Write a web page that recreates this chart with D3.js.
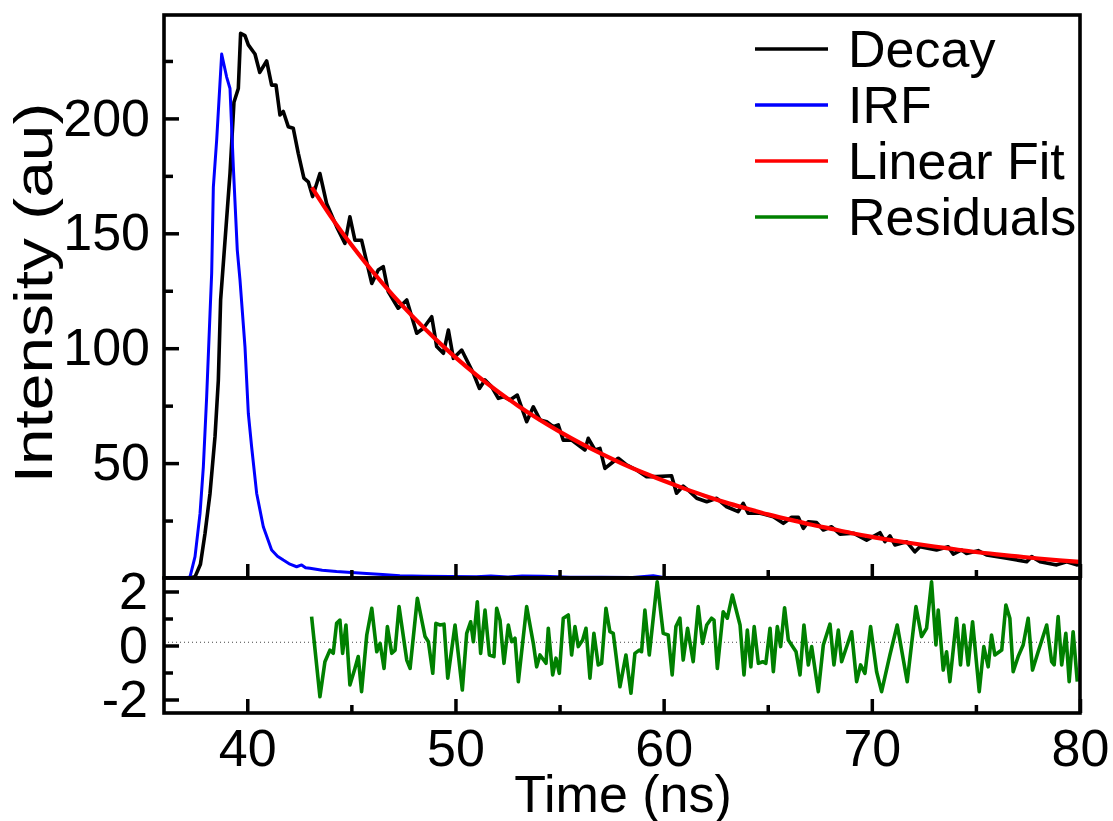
<!DOCTYPE html>
<html>
<head>
<meta charset="utf-8">
<script src="https://cdn.jsdelivr.net/npm/d3@7"></script>
<style>
  body { margin: 0; background: #fff; }
  svg text { font-family: "Liberation Sans", Arial, sans-serif; fill: #000; }
  .tick line { stroke: #000; stroke-width: 3.5; }
  .domain { display: none; }
</style>
</head>
<body>
<svg id="chart" width="1113" height="821"></svg>
<script>
// decay curve (time in ns, counts)
var decayTime = [36, 37.2, 37.49, 37.75, 37.97, 38.21, 38.45, 38.61, 38.72, 39.17, 39.36, 39.57, 39.68, 39.89, 40.05, 40.37, 40.6, 40.93, 41.17, 41.38, 41.57, 41.73, 41.97, 42.21, 42.45, 42.72, 42.93, 43.14, 43.49, 43.81, 44.29, 44.69, 44.93, 45.17, 45.49, 45.98, 46.29, 46.53, 46.77, 47.25, 47.66, 48.14, 48.46, 48.86, 49.1, 49.42, 49.66, 49.9, 50.3, 50.86, 51.15, 51.42, 51.74, 52.06, 52.3, 52.62, 52.97, 53.42, 53.74, 54.06, 54.38, 54.7, 54.94, 55.18, 55.58, 56.22, 56.38, 56.7, 56.94, 57.18, 57.58, 57.82, 58.22, 58.7, 59.18, 59.66, 60.38, 60.62, 60.94, 61.26, 61.59, 62.07, 62.55, 63.03, 63.58, 63.82, 64.06, 64.63, 65.27, 65.75, 66.15, 66.47, 66.71, 66.95, 67.35, 67.67, 68.07, 68.47, 69.11, 69.75, 70.39, 70.63, 70.87, 71.11, 71.67, 72.07, 72.31, 73.11, 73.67, 73.91, 74.31, 74.55, 75.11, 75.51, 76.48, 77.44, 77.68, 78.08, 78.88, 79.36, 79.84, 80];
var decayCounts = [0, 0, 0.5, 6, 19.4, 36.8, 61.5, 86, 121, 176, 207, 213, 237, 236, 232, 228, 220, 225, 214.5, 214.5, 201.5, 203, 196.4, 195.7, 184.8, 174, 172.4, 166, 176, 163, 152.9, 145.6, 157.2, 147, 147, 128.2, 134, 135.5, 124.6, 117.4, 121, 106.5, 108.7, 113.7, 100.7, 97.8, 107.9, 95.6, 99.2, 89.1, 82.5, 86.2, 83.2, 78.2, 78.9, 77.5, 79.6, 68, 74.5, 68.8, 68, 65.8, 66.6, 60, 60, 55.7, 60.8, 55.7, 56.4, 47.7, 50.6, 52.1, 49.2, 47, 44.1, 44.1, 44.5, 36.9, 40, 37.6, 34.7, 33.2, 34.7, 31, 28.9, 32.5, 28.2, 28.2, 26.7, 23.8, 26.4, 26.4, 21.6, 24.5, 24.1, 20.9, 22.3, 19.1, 19.5, 16.5, 19.7, 15.8, 18.3, 14.4, 15.8, 11.4, 13.6, 12.2, 13.6, 10.4, 12.2, 10.7, 11.9, 10, 8.6, 7.1, 9.3, 7.1, 5.7, 7.1, 5.7, 6];

// instrument response function
var irfTime = [36, 37, 37.25, 37.49, 37.73, 37.89, 38.05, 38.21, 38.29, 38.37, 38.53, 38.77, 39.01, 39.17, 39.33, 39.52, 39.65, 39.89, 40.05, 40.21, 40.45, 40.77, 41.17, 41.45, 41.73, 42.05, 42.37, 42.61, 42.8, 43.01, 43.6, 44.29, 45, 45.73, 46.5, 47.33, 48.5, 49.74, 51, 51.7, 52.5, 53.2, 54.2, 55.5, 57, 58.5, 59.5, 60, 62, 80];
var irfCounts = [0, 0, 0.5, 9.3, 28, 48.4, 79, 115, 132.6, 170, 190.6, 228, 218, 213, 179, 142.7, 129.7, 100.6, 71.7, 57, 36.9, 22.3, 12.2, 9.5, 7.8, 6, 4.9, 5.7, 4.5, 4.2, 3.4, 2.8, 2.4, 2, 1.5, 1, 0.8, 0.6, 0.5, 0.9, 0.4, 0.9, 0.8, 0.3, 0.3, 0.2, 1, 0.2, 0, 0];

// exponential fit
var fitTime = [43.1, 44, 45, 46, 47, 48, 49, 50, 51, 52, 53, 54, 55, 56, 57, 58, 59, 60, 61, 62, 63, 64, 65, 66, 67, 68, 69, 70, 71, 72, 73, 74, 75, 76, 77, 78, 79, 80];
var fitCounts = [170, 157.5, 145, 133.6, 123, 113.3, 104.3, 96, 88.4, 81.4, 75, 69.1, 63.7, 58.7, 54.1, 49.8, 45.9, 42.3, 38.9, 35.7, 32.8, 30.2, 27.7, 25.5, 23.4, 21.5, 19.6, 17.9, 16.4, 15, 13.7, 12.5, 11.3, 10.3, 9.4, 8.5, 7.7, 7];

// residuals
var residualTime = [43.09, 43.49, 43.73, 43.97, 44.13, 44.29, 44.45, 44.58, 44.74, 44.93, 45.17, 45.33, 45.49, 45.74, 45.98, 46.22, 46.38, 46.57, 46.73, 46.94, 47.1, 47.29, 47.66, 47.82, 48.17, 48.54, 48.7, 48.91, 49.06, 49.26, 49.45, 49.63, 49.98, 50.33, 50.54, 50.73, 50.86, 51.05, 51.21, 51.42, 51.63, 51.85, 51.98, 52.14, 52.33, 52.54, 52.7, 52.86, 53.02, 53.42, 53.74, 53.9, 54.06, 54.35, 54.46, 54.67, 54.83, 54.99, 55.18, 55.42, 55.58, 55.74, 55.9, 56.11, 56.27, 56.46, 56.65, 56.86, 57.02, 57.23, 57.42, 57.58, 57.9, 58.19, 58.43, 58.62, 58.83, 58.94, 59.1, 59.31, 59.69, 59.98, 60.22, 60.41, 60.59, 60.78, 60.94, 61.15, 61.42, 61.66, 61.87, 62.07, 62.3, 62.42, 62.58, 62.86, 63.06, 63.3, 63.67, 63.86, 64.02, 64.19, 64.35, 64.55, 64.76, 64.91, 65.11, 65.27, 65.46, 65.62, 65.81, 65.99, 66.36, 66.55, 66.74, 66.95, 67.11, 67.43, 67.67, 67.99, 68.18, 68.39, 68.55, 69.03, 69.27, 69.46, 69.67, 69.94, 70.23, 70.47, 70.87, 71.22, 71.7, 72.12, 72.39, 72.63, 72.87, 73.08, 73.19, 73.43, 73.59, 73.75, 74.07, 74.26, 74.42, 74.63, 74.84, 75.16, 75.38, 75.59, 75.75, 75.91, 76.24, 76.44, 76.63, 76.79, 77.03, 77.27, 77.51, 77.72, 77.99, 78.4, 78.64, 78.76, 78.95, 79.12, 79.32, 79.48, 79.67, 79.87];
var residualValues = [1.07, -1.9, -0.6, -0.17, -0.29, 0.82, 0.94, -0.29, 0.76, -1.46, -0.85, -0.41, -1.71, 0.39, 1.38, -0.23, 0.08, -0.85, 0.7, -0.29, -0.17, 1.44, -0.54, -0.85, 1.75, 0.33, 0.14, -1.03, 0.82, 0.76, 0.79, -1.21, 0.76, -1.65, 0.45, 0.88, 0.14, 1.62, -0.29, 1.31, -0.35, -0.41, 1.38, 0.94, -0.66, 0.76, 0.14, 0.27, -1.34, 1.44, 0.08, -0.79, -0.35, -0.66, 0.64, -1.09, -0.47, -1.03, 1.01, 1.13, -0.35, 0.7, -0.04, 0.2, 0.64, -1.21, 0.45, -0.72, -0.66, 1.38, 0.51, 0.45, -1.53, -0.35, -1.77, -0.29, -0.17, -0.23, 1.31, -0.35, 2.36, 0.45, 0.39, -1.09, 0.7, 1.01, -0.54, 0.64, -0.6, 1.44, 0.08, 0.76, 1.01, 0.94, -0.85, 1.25, 1.01, 1.87, 0.76, -1.09, 0.57, -0.79, 0.7, -0.66, -0.6, -0.66, 0.64, -0.97, 0.7, -0.04, 1.4, 0.2, -0.23, -1.09, 0.76, -0.72, -0.04, -1.71, 0.02, 0.79, -0.72, 0.57, -0.6, 0.51, -1.34, -0.72, -1.03, 0.7, -0.97, -1.71, -0.35, 0.76, -1.34, 1.44, 0.33, 0.64, 2.36, 0.02, 1.31, -0.91, -0.23, -1.34, 1.01, -0.72, 0.76, -0.72, 0.88, -1.71, -0.04, -0.79, 0.39, -0.35, -0.17, 1.5, 1.01, -0.97, -0.41, 0.02, 1.01, -0.91, -0.23, 0.76, -0.6, -0.72, 1.07, -0.72, 0.45, -1.34, 0.51, -1.34];
var residualBaseline = [0.12];

var xMajor = [40, 50, 60, 70, 80], xMinor = [45, 55, 65, 75];
var yMajor = [50, 100, 150, 200], yMinor = [25, 75, 125, 175, 225];
var rMajor = [-2, 0, 2], rMinor = [-1, 1];
var legendNames = ["Decay", "IRF", "Linear Fit", "Residuals"];

var colors = { "Decay": "#000000", "IRF": "#0000ff", "Linear Fit": "#ff0000", "Residuals": "#008000" };

var svg = d3.select("#chart");
// plot box edges (px)
var pLeft = 164, pRight = 1080, pTop = 15, pMid = 578, pBottom = 713;

var x = d3.scaleLinear().domain([36, 80]).range([pLeft, pRight]);
var y = d3.scaleLinear().domain([0, 245]).range([pMid, pTop]);
var yr = d3.scaleLinear().domain([-2.5, 2.5]).range([pBottom, pMid]);

svg.append("clipPath").attr("id", "clipTop")
  .append("rect").attr("x", pLeft).attr("y", pTop).attr("width", pRight - pLeft).attr("height", pMid - pTop);
svg.append("clipPath").attr("id", "clipBot")
  .append("rect").attr("x", pLeft).attr("y", pMid).attr("width", pRight - pLeft).attr("height", pBottom - pMid);

function zip(a, b) { return a.map(function(d, i) { return [d, b[i]]; }); }

var lineTop = d3.line().x(function(d) { return x(d[0]); }).y(function(d) { return y(d[1]); });
var lineFit = d3.line().x(function(d) { return x(d[0]); }).y(function(d) { return y(d[1]); }).curve(d3.curveMonotoneX);
var lineRes = d3.line().x(function(d) { return x(d[0]); }).y(function(d) { return yr(d[1]); });

var gTop = svg.append("g").attr("clip-path", "url(#clipTop)");
gTop.append("path").datum(zip(decayTime, decayCounts))
  .attr("d", lineTop).attr("fill", "none").attr("stroke", colors["Decay"]).attr("stroke-width", 3.6).attr("stroke-linejoin", "round");
gTop.append("path").datum(zip(irfTime, irfCounts))
  .attr("d", lineTop).attr("fill", "none").attr("stroke", colors["IRF"]).attr("stroke-width", 3).attr("stroke-linejoin", "round");
gTop.append("path").datum(zip(fitTime, fitCounts))
  .attr("d", lineFit).attr("fill", "none").attr("stroke", colors["Linear Fit"]).attr("stroke-width", 4.2);

var gBot = svg.append("g").attr("clip-path", "url(#clipBot)");
gBot.selectAll(".zero").data(residualBaseline).enter().append("line")
  .attr("x1", pLeft).attr("x2", pRight)
  .attr("y1", function(d) { return yr(d); }).attr("y2", function(d) { return yr(d); })
  .attr("stroke", "#444").attr("stroke-width", 1).attr("stroke-dasharray", "1,3");
gBot.append("path").datum(zip(residualTime, residualValues))
  .attr("d", lineRes).attr("fill", "none").attr("stroke", colors["Residuals"]).attr("stroke-width", 3.6).attr("stroke-linejoin", "round");

// axes: ticks point inward
function tickAxis(axis, g, vals, len, labels) {
  var a = axis.tickValues(vals).tickSize(len).tickPadding(labels ? 16 : 0);
  a.tickFormat(labels ? function(d) { return String(d); } : "");
  g.call(a);
}

var gx1 = svg.append("g").attr("transform", "translate(0," + pMid + ")");
tickAxis(d3.axisBottom(x), gx1.append("g"), xMajor, -14, false);
tickAxis(d3.axisBottom(x), gx1.append("g"), xMinor, -8, false);

var gx2 = svg.append("g").attr("transform", "translate(0," + pBottom + ")");
tickAxis(d3.axisBottom(x), gx2.append("g"), xMajor, -14, true);
tickAxis(d3.axisBottom(x), gx2.append("g"), xMinor, -8, false);

var gy1 = svg.append("g").attr("transform", "translate(" + pLeft + ",0)");
tickAxis(d3.axisLeft(y), gy1.append("g"), yMajor, -15, true);
tickAxis(d3.axisLeft(y), gy1.append("g"), yMinor, -9, false);

var gy2 = svg.append("g").attr("transform", "translate(" + pLeft + ",0)");
tickAxis(d3.axisLeft(yr), gy2.append("g"), rMajor, -15, true);
tickAxis(d3.axisLeft(yr), gy2.append("g"), rMinor, -9, false);

svg.selectAll(".tick text").attr("font-size", 52);
gy1.selectAll(".tick text").attr("x", -14);
gy2.selectAll(".tick text").attr("x", -16);

// frames
[[pTop, pMid], [pMid, pBottom]].forEach(function(p) {
  svg.append("rect").attr("x", pLeft).attr("y", p[0]).attr("width", pRight - pLeft).attr("height", p[1] - p[0])
    .attr("fill", "none").attr("stroke", "#000").attr("stroke-width", 3.6);
});

// axis titles
svg.append("text").attr("x", 623).attr("y", 812).attr("text-anchor", "middle").attr("font-size", 52).text("Time (ns)");
svg.append("text").attr("transform", "translate(52,293) rotate(-90) scale(1.22,1)").attr("text-anchor", "middle")
  .attr("font-size", 54).text("Intensity (au)");

// legend
var leg = svg.append("g");
legendNames.forEach(function(name, i) {
  var ly = 49 + i * 56;
  leg.append("line").attr("x1", 755).attr("x2", 828).attr("y1", ly).attr("y2", ly)
    .attr("stroke", colors[name]).attr("stroke-width", 3.6);
  leg.append("text").attr("x", 848).attr("y", ly + 18).attr("font-size", 52).text(name);
});
</script>
</body>
</html>
